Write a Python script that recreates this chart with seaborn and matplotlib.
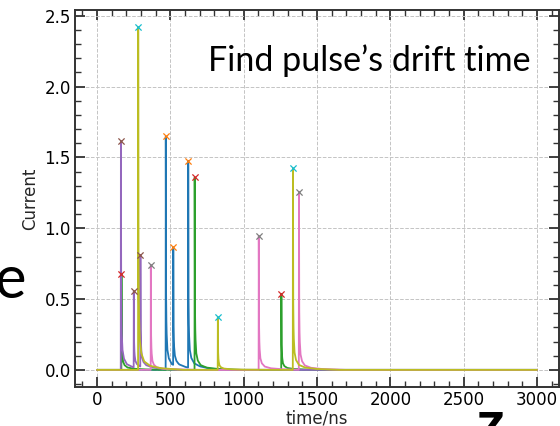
import numpy as np
import matplotlib
matplotlib.use("Agg")
import matplotlib.pyplot as plt
import seaborn as sns
from matplotlib.ticker import MultipleLocator

# ---- data ----
# five waveforms, three pulses each: arrival times (ns) and peak currents
BLUE_TIMES = [469, 520, 622]
BLUE_PEAKS = [1.648, 0.866, 1.476]
GREEN_TIMES = [167, 666, 1257]
GREEN_PEAKS = [0.678, 1.359, 0.537]
PURPLE_TIMES = [163, 251, 296]
PURPLE_PEAKS = [1.617, 0.558, 0.812]
PINK_TIMES = [367, 1103, 1377]
PINK_PEAKS = [0.741, 0.946, 1.258]
OLIVE_TIMES = [281, 824, 1336]
OLIVE_PEAKS = [2.420, 0.373, 1.423]

# pulse tail profile (fraction of peak vs. ns after arrival)
TAIL_NS = [0, 1, 2, 3, 5, 10, 20, 40, 80, 150, 300]
TAIL_FRAC = [1.0, 0.5, 0.33, 0.25, 0.17, 0.09, 0.05, 0.025, 0.012, 0.005, 0.0]

T_START, T_END = 0, 3000
X_TICKS = [0, 500, 1000, 1500, 2000, 2500, 3000]
Y_TICKS = [0.0, 0.5, 1.0, 1.5, 2.0, 2.5]

waveforms = [
    (BLUE_TIMES, BLUE_PEAKS),
    (GREEN_TIMES, GREEN_PEAKS),
    (PURPLE_TIMES, PURPLE_PEAKS),
    (PINK_TIMES, PINK_PEAKS),
    (OLIVE_TIMES, OLIVE_PEAKS),
]

sns.set_style("ticks")
plt.rcParams["font.family"] = ["DejaVu Sans"]
palette = sns.color_palette("tab10")

fig = plt.figure(figsize=(5.6, 4.26), dpi=100)
ax = fig.add_axes([75 / 560, 39 / 426, 484 / 560, 377 / 426])

T = np.arange(T_START, T_END + 1, 1)
for i, (times, peaks) in enumerate(waveforms):
    wave = np.zeros(T.shape, dtype=float)
    order = np.argsort(times)
    for k in order:
        t0, pk = times[k], peaks[k]
        idx0 = np.searchsorted(T, t0)
        amp = pk - wave[idx0]
        dt = T - t0
        m = dt >= 0
        wave[m] += amp * np.interp(dt[m], TAIL_NS, TAIL_FRAC)
    sns.lineplot(x=T, y=wave, color=palette[2 * i], linewidth=1.3, ax=ax)
    idx = np.searchsorted(T, times)
    sns.scatterplot(x=T[idx], y=wave[idx], marker="x", color=palette[2 * i + 1],
                    s=20, linewidth=0.9, ax=ax, zorder=5)

ax.set_xlim(-150, 3150)
ax.set_ylim(-0.121, 2.541)
ax.set_xticks(X_TICKS)
ax.set_yticks(Y_TICKS)
ax.set_yticklabels([f"{v:.1f}" for v in Y_TICKS])
ax.xaxis.set_minor_locator(MultipleLocator(100))
ax.yaxis.set_minor_locator(MultipleLocator(0.1))
ax.tick_params(which="both", direction="in", top=True, right=True, colors="#333333",
               labelcolor="black", labelsize=12, pad=3)
ax.tick_params(which="major", length=7, width=1.3)
ax.tick_params(which="minor", length=4, width=1.0)
for sp in ax.spines.values():
    sp.set_color("#333333")
    sp.set_linewidth(1.4)
ax.grid(True, which="major", linestyle="--", color="#c4c4c4", linewidth=0.7)
ax.set_axisbelow(True)

ax.set_xlabel("time/ns", fontsize=12, labelpad=0)
ax.set_ylabel("Current", fontsize=12, labelpad=4)

# slide overlay texts
fig.text(208 / 560, 1 - 71 / 426, "Find pulse\u2019s drift time", fontsize=24.5,
         family=["Lato", "DejaVu Sans"], ha="left", va="baseline", color="black")
fig.text(26 / 560, 1 - 298 / 426, "e", fontsize=43,
         family=["Lato", "DejaVu Sans"], ha="right", va="baseline", color="black")
fig.text(477 / 560, 1 - 443 / 426, "z", fontsize=43, fontweight="bold",
         family=["Lato", "DejaVu Sans"], ha="left", va="baseline", color="black")

fig.savefig("out.png", dpi=100)
